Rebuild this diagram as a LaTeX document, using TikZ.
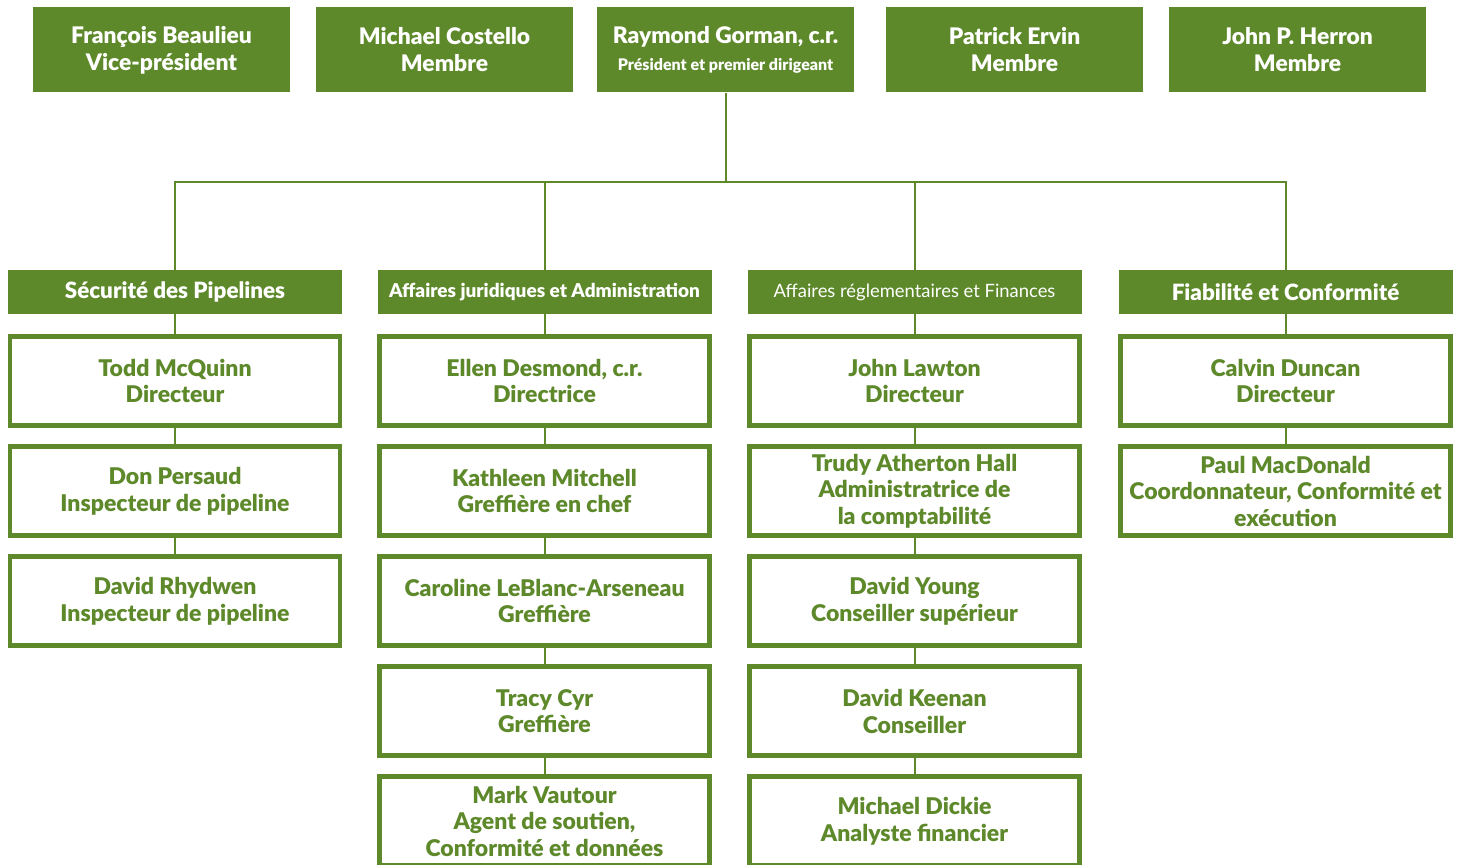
\documentclass[tikz,border=0pt]{standalone}
\usepackage{fontspec}
\setmainfont{Lato}[BoldFont={Lato Black}]
\usetikzlibrary{positioning}

\definecolor{boardgreen}{RGB}{94,137,43}

\begin{document}
\begin{tikzpicture}[
    x=0.5pt, y=-0.5pt,
    node distance=8.25pt,
    topbox/.style={rectangle, fill=boardgreen, text=white, minimum width=128.5pt, minimum height=42.5pt, align=center, font=\bfseries\fontsize{11.4}{13.5}\selectfont, inner sep=2pt},
    dept/.style={rectangle, fill=boardgreen, text=white, minimum width=167pt, minimum height=22pt, align=center, inner sep=1pt},
    person/.style={rectangle, draw=boardgreen, line width=2.25pt, fill=white, text=boardgreen, minimum width=165pt, minimum height=44.5pt, align=center, font=\bfseries\fontsize{11.5}{13.3}\selectfont, inner sep=1pt},
    link/.style={draw=boardgreen, line width=1pt},
]
    \useasboundingbox (0,0) rectangle (1462,865);

    % --- Board ---
    \node[topbox] (vp)   at (161.5,50) {François Beaulieu\\Vice-président};
    \node[topbox] (mcos) at (444.5,50) {Michael Costello\\Membre};
    \node[topbox] (pres) at (725.5,50) {Raymond Gorman, c.r.\\{\fontsize{8}{10}\selectfont Président et premier dirigeant}};
    \node[topbox] (perv) at (1014.5,50) {Patrick Ervin\\Membre};
    \node[topbox] (jher) at (1297.5,50) {John P. Herron\\Membre};

    % --- Departments ---
    \node[dept, font=\bfseries\fontsize{11.2}{13}\selectfont] (secu) at (175,292) {Sécurité des Pipelines};
    \node[dept, font=\bfseries\fontsize{9.5}{11}\selectfont] (jur) at (544.5,292) {Affaires juridiques et Administration};
    \node[dept, font=\fontsize{9.2}{11}\selectfont] (fin) at (914.5,292) {Affaires réglementaires et Finances};
    \node[dept, font=\bfseries\fontsize{11.2}{13}\selectfont] (fiab) at (1285.5,292) {Fiabilité et Conformité};

    % --- Sécurité des Pipelines ---
    \node[person, below=10pt of secu] (s1) {Todd McQuinn\\Directeur};
    \node[person, below=of s1] (s2) {Don Persaud\\Inspecteur de pipeline};
    \node[person, below=of s2] (s3) {David Rhydwen\\Inspecteur de pipeline};

    % --- Affaires juridiques ---
    \node[person, below=10pt of jur] (j1) {Ellen Desmond, c.r.\\Directrice};
    \node[person, below=of j1] (j2) {Kathleen Mitchell\\Greffière en chef};
    \node[person, below=of j2] (j3) {Caroline LeBlanc-Arseneau\\Greffière};
    \node[person, below=of j3] (j4) {Tracy Cyr\\Greffière};
    \node[person, below=of j4] (j5) {Mark Vautour\\Agent de soutien,\\Conformité et données};

    % --- Affaires réglementaires ---
    \node[person, below=10pt of fin] (f1) {John Lawton\\Directeur};
    \node[person, below=of f1] (f2) {Trudy Atherton Hall\\Administratrice de\\la comptabilité};
    \node[person, below=of f2] (f3) {David Young\\Conseiller supérieur};
    \node[person, below=of f3] (f4) {David Keenan\\Conseiller};
    \node[person, below=of f4] (f5) {Michael Dickie\\Analyste financier};

    % --- Fiabilité ---
    \node[person, below=10pt of fiab] (r1) {Calvin Duncan\\Directeur};
    \node[person, below=of r1] (r2) {Paul MacDonald\\Coordonnateur, Conformité et\\exécution};

    % --- Connectors ---
    \coordinate (bus) at (725.5,182);
    \draw[link] (pres.south) -- (bus);
    \draw[link] (bus) -| (secu.north);
    \draw[link] (bus) -| (fiab.north);
    \draw[link] (bus) -| (jur.north);
    \draw[link] (bus) -| (fin.north);

    \foreach \a/\b in {secu/s1, s1/s2, s2/s3,
                       jur/j1, j1/j2, j2/j3, j3/j4, j4/j5,
                       fin/f1, f1/f2, f2/f3, f3/f4, f4/f5,
                       fiab/r1, r1/r2}
        \draw[link] (\a.south) -- (\b.north);
\end{tikzpicture}
\end{document}
